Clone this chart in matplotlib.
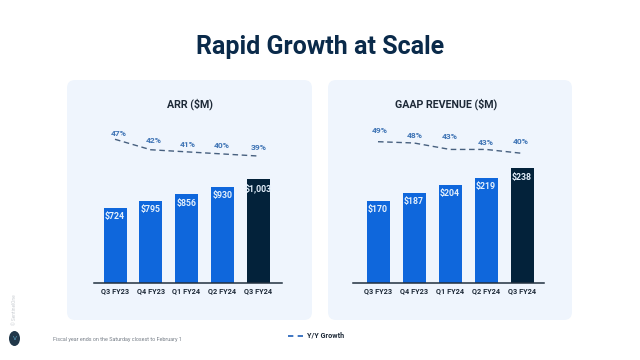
import matplotlib
matplotlib.use("Agg")
import matplotlib.pyplot as plt
from matplotlib.patches import FancyBboxPatch, Ellipse

plt.rcParams["font.family"] = ["Roboto", "DejaVu Sans"]

# data
quarters = ["Q3 FY23", "Q4 FY23", "Q1 FY24", "Q2 FY24", "Q3 FY24"]
arr = [724, 795, 856, 930, 1003]
arr_growth = [47, 42, 41, 40, 39]
revenue = [170, 187, 204, 219, 238]
revenue_growth = [49, 48, 43, 43, 40]

BLUE = "#0F67DC"
NAVY = "#03223A"
DASH = "#47607F"
PCT = "#3F74B5"
DARK = "#1E2A38"
W, H = 640, 360
BASE = 282.7
TOP = 100

fig = plt.figure(figsize=(6.4, 3.6), dpi=100, facecolor="white")

# background layer in pixel coords
bg = fig.add_axes([0, 0, 1, 1])
bg.set_xlim(0, W)
bg.set_ylim(H, 0)
bg.axis("off")
for x0, x1 in [(67, 312), (328, 572)]:
    bg.add_patch(FancyBboxPatch((x0 + 8, 88), x1 - x0 - 16, 224,
                                boxstyle="round,pad=8,rounding_size=8",
                                fc="#EFF5FD", ec="none"))
bg.text(320, 47, "Rapid Growth at Scale", color="#0A2A4A", fontsize=18,
        fontweight="bold", ha="center", va="center")
bg.text(53, 339.5, "Fiscal year ends on the Saturday closest to February 1",
        color="#777F88", fontsize=3.9, va="center")
bg.plot([288, 303], [336, 336], color="#1F5FB8", lw=1.2, dashes=(3.2, 2.6))
bg.text(307, 335.5, "Y/Y Growth", color=DARK, fontsize=5.2, fontweight="bold",
        va="center")
bg.text(14.5, 310, "© SentinelOne", color="#C9CDD2", fontsize=3.4,
        rotation=90, ha="center", va="center")
bg.add_patch(Ellipse((14.5, 338.5), 11, 15, fc="#21384A", ec="none"))
bg.text(14.5, 338, "V", color="#5FA8C8", fontsize=4.5, ha="center", va="center")


def panel(title, title_x, values, growth, x_first, step, x0, x1,
          px_per_val, g_y0, px_per_pct, pct_pos):
    # bars
    ax = fig.add_axes([x0 / W, 1 - BASE / H, (x1 - x0) / W, (BASE - TOP) / H])
    ax.patch.set_alpha(0)
    ax.set_xlim((x0 - x_first) / step, (x1 - x_first) / step)
    ax.set_ylim(0, (BASE - TOP) / px_per_val)
    colors = [BLUE] * 4 + [NAVY]
    pos = list(range(len(values)))
    ax.bar(pos, values, width=23 / step, color=colors)
    for i, v in zip(pos, values):
        ax.annotate("${:,}".format(v), (i, v), xytext=(0, -6.2),
                    textcoords="offset points", ha="center", va="center",
                    color="#E4F0FC", fontsize=6.3, fontweight="bold")
    for s in ["top", "left", "right"]:
        ax.spines[s].set_visible(False)
    ax.spines["bottom"].set_color("#22303F")
    ax.spines["bottom"].set_linewidth(1.1)
    ax.set_yticks([])
    ax.set_xticks(pos)
    ax.set_xticklabels(quarters, fontsize=5.3, fontweight="bold", color=DARK)
    ax.tick_params(axis="x", length=0, pad=3.5)

    # growth line on its own scale
    ax2 = ax.twinx()
    ax2.patch.set_alpha(0)
    ax2.axis("off")
    g0 = growth[0]
    ax2.set_ylim(g0 - (BASE - g_y0) / px_per_pct, g0 + (g_y0 - TOP) / px_per_pct)
    ax2.plot(pos, growth, color=DASH, lw=1.0, dashes=(4, 2.6))
    for g, (px, py) in zip(growth, pct_pos):
        bg.text(px, py, "{}%".format(g), color=PCT, fontsize=6.1,
                fontweight="bold", ha="center", va="center")
    bg.text(title_x, 104, title, color=DARK, fontsize=7.7, fontweight="bold",
            ha="center", va="center")


panel("ARR ($M)", 190, arr, arr_growth, 115, 35.75, 94, 282, 0.1031, 139.3, 2.09,
      [(119, 133), (153.7, 140.7), (188, 144.7), (222, 146), (258.7, 147.3)])
panel("GAAP REVENUE ($M)", 446.5, revenue, revenue_growth, 378, 36, 353, 544, 0.48, 141.7, 1.29,
      [(379.7, 130.7), (415, 135), (450, 136.3), (485.3, 142.3), (521, 141.3)])

fig.savefig("out.png", dpi=100)
